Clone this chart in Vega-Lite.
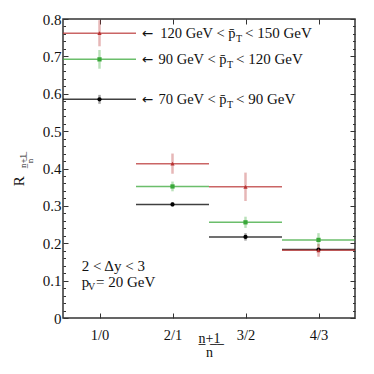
{
  "$schema": "https://vega.github.io/schema/vega-lite/v6.json",
  "width": 292,
  "height": 299,
  "autosize": {"type": "none"},
  "padding": {"left": 63, "top": 19, "right": 19, "bottom": 56},
  "config": {
    "view": {"stroke": "#333", "strokeWidth": 1.5},
    "font": "Liberation Serif",
    "axis": {"labelFont": "Liberation Serif", "titleFont": "Liberation Serif", "labelColor": "#111", "titleColor": "#111", "tickColor": "#333", "tickWidth": 1, "domain": false, "grid": false, "titleFontWeight": "normal"}
  },
  "datasets": {
    "pts": [
      {"c": "1/0", "n": 1, "x0": 0.5, "x1": 1.5, "s": "lo", "y": 0.585, "lo": 0.573, "hi": 0.597},
      {"c": "2/1", "n": 2, "x0": 1.5, "x1": 2.5, "s": "lo", "y": 0.304, "lo": 0.298, "hi": 0.310},
      {"c": "3/2", "n": 3, "x0": 2.5, "x1": 3.5, "s": "lo", "y": 0.217, "lo": 0.207, "hi": 0.227},
      {"c": "4/3", "n": 4, "x0": 3.5, "x1": 4.5, "s": "lo", "y": 0.183, "lo": 0.178, "hi": 0.188},
      {"c": "1/0", "n": 1, "x0": 0.5, "x1": 1.5, "s": "mid", "y": 0.692, "lo": 0.667, "hi": 0.717},
      {"c": "2/1", "n": 2, "x0": 1.5, "x1": 2.5, "s": "mid", "y": 0.352, "lo": 0.339, "hi": 0.365},
      {"c": "3/2", "n": 3, "x0": 2.5, "x1": 3.5, "s": "mid", "y": 0.256, "lo": 0.241, "hi": 0.271},
      {"c": "4/3", "n": 4, "x0": 3.5, "x1": 4.5, "s": "mid", "y": 0.209, "lo": 0.191, "hi": 0.227},
      {"c": "1/0", "n": 1, "x0": 0.5, "x1": 1.5, "s": "hi", "y": 0.762, "lo": 0.727, "hi": 0.797},
      {"c": "2/1", "n": 2, "x0": 1.5, "x1": 2.5, "s": "hi", "y": 0.413, "lo": 0.386, "hi": 0.440},
      {"c": "3/2", "n": 3, "x0": 2.5, "x1": 3.5, "s": "hi", "y": 0.351, "lo": 0.313, "hi": 0.389},
      {"c": "4/3", "n": 4, "x0": 3.5, "x1": 4.5, "s": "hi", "y": 0.181, "lo": 0.164, "hi": 0.198}
    ],
    "lab": [
      {"y": 0.762, "arrow": "←", "pre": "120 GeV < p̄", "sub": "T", "post": "< 150 GeV", "xa": 1.578, "xt": 2.870, "xp": 2.993},
      {"y": 0.692, "arrow": "←", "pre": "90 GeV < p̄", "sub": "T", "post": "< 120 GeV", "xa": 1.578, "xt": 2.746, "xp": 2.870},
      {"y": 0.585, "arrow": "←", "pre": "70 GeV < p̄", "sub": "T", "post": "< 90 GeV", "xa": 1.578, "xt": 2.746, "xp": 2.870}
    ],
    "note": [
      {"x": 0.756, "y": 0.126, "t": "2 < Δy < 3"},
      {"x": 0.756, "y": 0.083, "t": "p"},
      {"x": 0.952, "y": 0.083, "t": "= 20 GeV"}
    ],
    "notesub": [
      {"x": 0.842, "y": 0.083, "t": "V"}
    ],
    "ytitle": [
      {"x": -0.1027, "y": 0.366, "t": "R"}
    ],
    "yfrac": [
      {"x": -0.0411, "y": 0.42, "t": "n̲+̲1̲"},
      {"x": 0.0411, "y": 0.42, "t": "n"}
    ]
  },
  "resolve": {"axis": {"x": "independent", "y": "independent"}},
  "layer": [
    {
      "data": {"name": "pts"},
      "mark": {"type": "rule", "strokeWidth": 1.5, "opacity": 0.75},
      "encoding": {
        "x": {"field": "x0", "type": "quantitative", "scale": {"domain": [0.5, 4.5]},
          "axis": {"orient": "bottom", "values": [1, 2, 3, 4], "labelExpr": "['','1/0','2/1','3/2','4/3'][datum.value]", "tickSize": -5, "labelPadding": 15, "labelFontSize": 14.5, "labelBaseline": "top", "title": ["n̲+̲1̲", "n"], "titleFontSize": 14, "titleLineHeight": 14, "titlePadding": -10}},
        "x2": {"field": "x1"},
        "y": {"field": "y", "type": "quantitative", "scale": {"domain": [0, 0.8]},
          "axis": {"orient": "left", "values": [0, 0.02, 0.04, 0.06, 0.08, 0.1, 0.12, 0.14, 0.16, 0.18, 0.2, 0.22, 0.24, 0.26, 0.28, 0.3, 0.32, 0.34, 0.36, 0.38, 0.4, 0.42, 0.44, 0.46, 0.48, 0.5, 0.52, 0.54, 0.56, 0.58, 0.6, 0.62, 0.64, 0.66, 0.68, 0.7, 0.72, 0.74, 0.76, 0.78, 0.8],
            "labelExpr": "abs(datum.value*10-round(datum.value*10))<0.001 ? format(datum.value,'.1~f') : ''",
            "tickSize": {"condition": {"test": "abs(datum.value*10-round(datum.value*10))<0.001", "value": -5}, "value": -2.5},
            "labelPadding": 7, "labelFontSize": 15, "labelBaseline": "middle", "title": null}},
        "color": {"field": "s", "type": "nominal", "scale": {"domain": ["hi", "mid", "lo"], "range": ["#b83232", "#3aa83a", "#000000"]}, "legend": null}
      }
    },
    {
      "data": {"name": "pts"},
      "mark": {"type": "rule", "strokeWidth": 2.5, "opacity": 0.35},
      "encoding": {
        "x": {"field": "n", "type": "quantitative",
          "axis": {"orient": "top", "values": [1, 2, 3, 4], "labels": false, "tickSize": -5, "title": null}},
        "y": {"field": "lo", "type": "quantitative",
          "axis": {"orient": "right", "values": [0, 0.02, 0.04, 0.06, 0.08, 0.1, 0.12, 0.14, 0.16, 0.18, 0.2, 0.22, 0.24, 0.26, 0.28, 0.3, 0.32, 0.34, 0.36, 0.38, 0.4, 0.42, 0.44, 0.46, 0.48, 0.5, 0.52, 0.54, 0.56, 0.58, 0.6, 0.62, 0.64, 0.66, 0.68, 0.7, 0.72, 0.74, 0.76, 0.78, 0.8],
            "labels": false,
            "tickSize": {"condition": {"test": "abs(datum.value*10-round(datum.value*10))<0.001", "value": -5}, "value": -2.5},
            "title": null}},
        "y2": {"field": "hi"},
        "color": {"field": "s", "type": "nominal", "legend": null}
      }
    },
    {
      "data": {"name": "pts"},
      "mark": {"type": "point", "filled": true, "size": 18, "opacity": 1},
      "encoding": {
        "x": {"field": "n", "type": "quantitative", "axis": null},
        "y": {"field": "y", "type": "quantitative", "axis": null},
        "color": {"field": "s", "type": "nominal", "legend": null},
        "shape": {"field": "s", "type": "nominal", "scale": {"domain": ["hi", "mid", "lo"], "range": ["triangle-up", "square", "circle"]}, "legend": null}
      }
    },
    {
      "data": {"name": "lab"},
      "mark": {"type": "text", "align": "left", "baseline": "middle", "dy": 0.5, "fontSize": 13.5, "font": "DejaVu Sans", "fill": "#111"},
      "encoding": {
        "x": {"field": "xa", "type": "quantitative", "axis": null},
        "y": {"field": "y", "type": "quantitative", "axis": null},
        "text": {"field": "arrow"}
      }
    },
    {
      "data": {"name": "lab"},
      "mark": {"type": "text", "align": "right", "baseline": "alphabetic", "dx": -0.5, "dy": 5, "fontSize": 14.5, "font": "Liberation Serif", "fill": "#111"},
      "encoding": {
        "x": {"field": "xt", "type": "quantitative", "axis": null},
        "y": {"field": "y", "type": "quantitative", "axis": null},
        "text": {"field": "pre"}
      }
    },
    {
      "data": {"name": "lab"},
      "mark": {"type": "text", "align": "left", "baseline": "alphabetic", "dy": 8.5, "fontSize": 10, "font": "Liberation Serif", "fill": "#111"},
      "encoding": {
        "x": {"field": "xt", "type": "quantitative", "axis": null},
        "y": {"field": "y", "type": "quantitative", "axis": null},
        "text": {"field": "sub"}
      }
    },
    {
      "data": {"name": "lab"},
      "mark": {"type": "text", "align": "left", "baseline": "alphabetic", "dy": 5, "fontSize": 15, "font": "Liberation Serif", "fill": "#111"},
      "encoding": {
        "x": {"field": "xp", "type": "quantitative", "axis": null},
        "y": {"field": "y", "type": "quantitative", "axis": null},
        "text": {"field": "post"}
      }
    },
    {
      "data": {"name": "note"},
      "mark": {"type": "text", "align": "left", "baseline": "alphabetic", "fontSize": 15, "font": "Liberation Serif", "fill": "#111"},
      "encoding": {
        "x": {"field": "x", "type": "quantitative", "axis": null},
        "y": {"field": "y", "type": "quantitative", "axis": null},
        "text": {"field": "t"}
      }
    },
    {
      "data": {"name": "notesub"},
      "mark": {"type": "text", "align": "left", "baseline": "alphabetic", "dy": 3, "fontSize": 10, "font": "Liberation Serif", "fill": "#111"},
      "encoding": {
        "x": {"field": "x", "type": "quantitative", "axis": null},
        "y": {"field": "y", "type": "quantitative", "axis": null},
        "text": {"field": "t"}
      }
    },
    {
      "data": {"name": "ytitle"},
      "mark": {"type": "text", "align": "center", "baseline": "middle", "angle": 270, "fontSize": 15, "font": "Liberation Serif", "fill": "#111"},
      "encoding": {
        "x": {"field": "x", "type": "quantitative", "axis": null},
        "y": {"field": "y", "type": "quantitative", "axis": null},
        "text": {"field": "t"}
      }
    },
    {
      "data": {"name": "yfrac"},
      "mark": {"type": "text", "align": "center", "baseline": "middle", "angle": 270, "fontSize": 9, "font": "Liberation Serif", "fill": "#111"},
      "encoding": {
        "x": {"field": "x", "type": "quantitative", "axis": null},
        "y": {"field": "y", "type": "quantitative", "axis": null},
        "text": {"field": "t"}
      }
    }
  ]
}
